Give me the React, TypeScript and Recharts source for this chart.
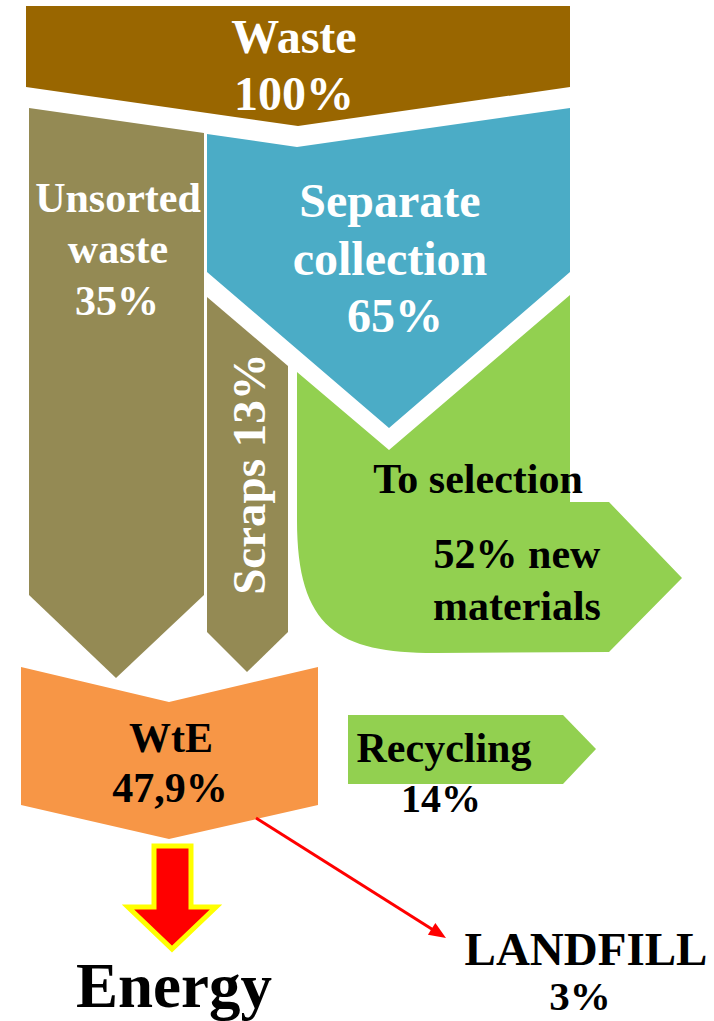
import React from 'react';
import { ScatterChart, Scatter, XAxis, YAxis } from 'recharts';

// ---------- values ----------
const stageNames = ['Waste', 'Unsorted waste', 'Separate collection', 'Scraps', 'To selection', 'new materials', 'WtE', 'Recycling', 'Energy', 'LANDFILL'];
const shareLabels = ['100%', '35%', '65%', '13%', '52%', '47,9%', '14%', '3%'];

// ---------- layout (diagram units = pixels of the 714 x 1021 canvas) ----------
const CANVAS_W = 714;
const CANVAS_H = 1021;
const FONT = "'Liberation Serif', 'Times New Roman', serif";

type Pt = { x: number; y: number; c?: boolean };
type ShapeDef = { key: string; fill: string; stroke?: string; strokeWidth?: number; pts: Pt[] };

const wastePts: Pt[] = [{ x: 26, y: 6 }, { x: 570, y: 6 }, { x: 570, y: 87 }, { x: 298, y: 126 }, { x: 26, y: 87 }];
const unsortedPts: Pt[] = [{ x: 29, y: 108 }, { x: 204, y: 133 }, { x: 204, y: 595 }, { x: 116, y: 678 }, { x: 29, y: 595 }];
const separatePts: Pt[] = [{ x: 207, y: 134 }, { x: 297, y: 147 }, { x: 570, y: 108 }, { x: 570, y: 272 }, { x: 389, y: 428 }, { x: 207, y: 272 }];
const scrapsPts: Pt[] = [{ x: 207, y: 297 }, { x: 288, y: 366 }, { x: 288, y: 632 }, { x: 247, y: 672 }, { x: 207, y: 632 }];
const selectionPts: Pt[] = [
  { x: 297, y: 372 }, { x: 389, y: 450 }, { x: 570, y: 295 }, { x: 570, y: 502 }, { x: 609, y: 502 },
  { x: 682, y: 578 }, { x: 609, y: 652 }, { x: 435, y: 653 },
  { x: 338, y: 653, c: true }, { x: 297, y: 628, c: true }, { x: 297, y: 520 },
];
const wtePts: Pt[] = [{ x: 21, y: 667 }, { x: 169, y: 702 }, { x: 318, y: 667 }, { x: 318, y: 805 }, { x: 169, y: 839 }, { x: 21, y: 805 }];
const recyclingPts: Pt[] = [{ x: 348, y: 715 }, { x: 563, y: 715 }, { x: 596, y: 749 }, { x: 563, y: 784 }, { x: 348, y: 784 }];
const energyPts: Pt[] = [{ x: 154, y: 846 }, { x: 191, y: 846 }, { x: 191, y: 907 }, { x: 216, y: 907 }, { x: 172, y: 949 }, { x: 128, y: 907 }, { x: 154, y: 907 }];
const landfillArrowPts: Pt[] = [{ x: 256, y: 818 }, { x: 446, y: 938 }];

const shapes: ShapeDef[] = [
  { key: 'waste', fill: '#996600', pts: wastePts },
  { key: 'unsorted', fill: '#948A54', pts: unsortedPts },
  { key: 'separate', fill: '#4BACC6', pts: separatePts },
  { key: 'scraps', fill: '#948A54', pts: scrapsPts },
  { key: 'selection', fill: '#92D050', pts: selectionPts },
  { key: 'wte', fill: '#F79646', pts: wtePts },
  { key: 'recycling', fill: '#92D050', pts: recyclingPts },
  { key: 'energy', fill: '#FF0000', stroke: '#FFFF00', strokeWidth: 5, pts: energyPts },
];

type Label = { x: number; y: number; text: string; size: number; color: string; rotate?: boolean };
const WHITE = '#FFFFFF';
const BLACK = '#000000';
const labels: Label[] = [
  { x: 294, y: 53, text: stageNames[0], size: 48, color: WHITE },
  { x: 294, y: 110, text: shareLabels[0], size: 48, color: WHITE },
  { x: 118, y: 212, text: 'Unsorted', size: 42, color: WHITE },
  { x: 118, y: 263, text: 'waste', size: 42, color: WHITE },
  { x: 117, y: 315, text: shareLabels[1], size: 42, color: WHITE },
  { x: 390, y: 217, text: 'Separate', size: 48, color: WHITE },
  { x: 390, y: 275, text: 'collection', size: 48, color: WHITE },
  { x: 395, y: 332, text: shareLabels[2], size: 48, color: WHITE },
  { x: 265, y: 474, text: `${stageNames[3]} ${shareLabels[3]}`, size: 47, color: WHITE, rotate: true },
  { x: 478, y: 493, text: stageNames[4], size: 42, color: BLACK },
  { x: 517, y: 568, text: `${shareLabels[4]} new`, size: 42, color: BLACK },
  { x: 517, y: 620, text: 'materials', size: 42, color: BLACK },
  { x: 171, y: 752, text: stageNames[6], size: 42, color: BLACK },
  { x: 170, y: 802, text: shareLabels[5], size: 42, color: BLACK },
  { x: 444, y: 762, text: stageNames[7], size: 42, color: BLACK },
  { x: 441, y: 812, text: shareLabels[6], size: 40, color: BLACK },
  { x: 174, y: 1007, text: stageNames[8], size: 63, color: BLACK },
  { x: 586, y: 965, text: stageNames[9], size: 47, color: BLACK },
  { x: 580, y: 1010, text: shareLabels[7], size: 41, color: BLACK },
];

// ---------- renderers ----------
const noSymbol = () => <g />;

const polygonLine = (def: ShapeDef) => (props: any) => {
  const p = props.points as { x: number; y: number }[];
  if (!p || p.length < 2) return <g />;
  let d = `M${p[0].x},${p[0].y}`;
  let i = 1;
  while (i < p.length) {
    if (def.pts[i].c && i + 2 < p.length) {
      d += `C${p[i].x},${p[i].y} ${p[i + 1].x},${p[i + 1].y} ${p[i + 2].x},${p[i + 2].y}`;
      i += 3;
    } else {
      d += `L${p[i].x},${p[i].y}`;
      i += 1;
    }
  }
  d += 'Z';
  return (
    <path
      d={d}
      fill={def.fill}
      stroke={def.stroke ?? 'none'}
      strokeWidth={def.strokeWidth ?? 0}
      strokeLinejoin="miter"
    />
  );
};

const arrowLine = (props: any) => {
  const p = props.points as { x: number; y: number }[];
  if (!p || p.length < 2) return <g />;
  const a = p[0];
  const b = p[p.length - 1];
  const dx = b.x - a.x;
  const dy = b.y - a.y;
  const len = Math.sqrt(dx * dx + dy * dy);
  const ux = dx / len;
  const uy = dy / len;
  const headLen = 17;
  const headHalf = 7;
  const bx = b.x - ux * headLen;
  const by = b.y - uy * headLen;
  const l = { x: bx - uy * headHalf, y: by + ux * headHalf };
  const r = { x: bx + uy * headHalf, y: by - ux * headHalf };
  return (
    <g>
      <line x1={a.x} y1={a.y} x2={bx + ux * 2} y2={by + uy * 2} stroke="#FF0000" strokeWidth={3} />
      <path d={`M${b.x},${b.y}L${l.x},${l.y}L${r.x},${r.y}Z`} fill="#FF0000" />
    </g>
  );
};

const labelShape = (props: any) => {
  const { cx, cy, payload } = props;
  const lb = payload as Label;
  return (
    <text
      x={cx}
      y={cy}
      textAnchor="middle"
      fontFamily={FONT}
      fontWeight="bold"
      fontSize={lb.size}
      fill={lb.color}
      transform={lb.rotate ? `rotate(-90, ${cx}, ${cy})` : undefined}
    >
      {lb.text}
    </text>
  );
};

export default function App() {
  return (
    <div style={{ position: 'absolute', left: 0, top: 0, width: CANVAS_W, height: CANVAS_H, background: '#FFFFFF' }}>
      <ScatterChart width={CANVAS_W} height={CANVAS_H} margin={{ top: 0, right: 0, bottom: 0, left: 0 }}>
        <XAxis type="number" dataKey="x" domain={[0, CANVAS_W]} allowDataOverflow hide />
        <YAxis type="number" dataKey="y" domain={[0, CANVAS_H]} allowDataOverflow reversed hide />
        {shapes.map((s) => (
          <Scatter
            key={s.key}
            data={s.pts}
            fill={s.fill}
            line={polygonLine(s)}
            lineType="joint"
            shape={noSymbol}
            isAnimationActive={false}
          />
        ))}
        <Scatter
          key="landfill-arrow"
          data={landfillArrowPts}
          fill="#FF0000"
          line={arrowLine}
          lineType="joint"
          shape={noSymbol}
          isAnimationActive={false}
        />
        <Scatter key="labels" data={labels} fill="#000000" shape={labelShape} isAnimationActive={false} />
      </ScatterChart>
    </div>
  );
}
